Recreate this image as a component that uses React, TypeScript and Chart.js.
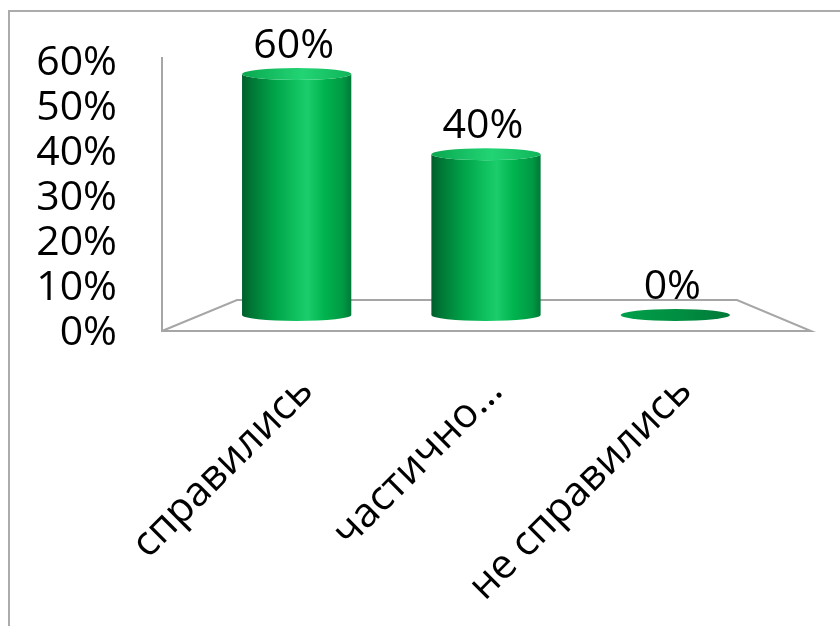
import React, { useEffect, useRef } from "react";
import { Chart, registerables } from "chart.js";

Chart.register(...registerables);

const categories = ["справились", "частично…", "не справились"];
const values = [60, 40, 0];
const dataLabels = ["60%", "40%", "0%"];
const yTickLabels = ["0%", "10%", "20%", "30%", "40%", "50%", "60%"];

const FONT = "'Open Sans', 'Noto Sans', sans-serif";
const FONT_SIZE = 41;

const cylinderPlugin = {
  id: "cylinder3d",
  beforeDatasetsDraw(chart: any) {
    const { ctx, chartArea } = chart;
    const { left, right, top, bottom } = chartArea;
    const zero = chart.scales.yBar.getPixelForValue(0);
    const backY = zero - 15;
    const frontY = bottom - 2;
    const wallX = left - 40;
    ctx.save();
    ctx.strokeStyle = "#a6a6a6";
    ctx.lineWidth = 2;
    ctx.beginPath();
    ctx.moveTo(wallX, top - 6);
    ctx.lineTo(wallX, frontY);
    ctx.lineTo(right + 41, frontY);
    ctx.lineTo(right - 33, backY);
    ctx.lineTo(left + 35, backY);
    ctx.lineTo(wallX, frontY);
    ctx.stroke();
    ctx.restore();
  },
  afterDatasetsDraw(chart: any) {
    const ctx = chart.ctx;
    const meta = chart.getDatasetMeta(0);
    meta.data.forEach((el: any, i: number) => {
      const { x, y, base, width } = el.getProps(["x", "y", "base", "width"], true);
      const rx = width / 2;
      const ry = width * 0.055;
      const l = x - rx;
      const r = x + rx;
      ctx.save();
      if (Math.abs(base - y) < 1) {
        const g0 = ctx.createLinearGradient(l, 0, r, 0);
        g0.addColorStop(0, "#00a04a");
        g0.addColorStop(0.5, "#008f42");
        g0.addColorStop(1, "#007a38");
        ctx.fillStyle = g0;
        ctx.beginPath();
        ctx.ellipse(x, base, rx, ry, 0, 0, Math.PI * 2);
        ctx.fill();
      } else {
        const g = ctx.createLinearGradient(l, 0, r, 0);
        g.addColorStop(0, "#005e2b");
        g.addColorStop(0.08, "#007535");
        g.addColorStop(0.3, "#00a449");
        g.addColorStop(0.5, "#10c260");
        g.addColorStop(0.6, "#1ccd6b");
        g.addColorStop(0.75, "#00b44f");
        g.addColorStop(0.92, "#009a44");
        g.addColorStop(1, "#007a37");
        ctx.fillStyle = g;
        ctx.beginPath();
        ctx.moveTo(l, y);
        ctx.lineTo(l, base);
        ctx.ellipse(x, base, rx, ry, 0, Math.PI, 0, true);
        ctx.lineTo(r, y);
        ctx.ellipse(x, y, rx, ry, 0, 0, Math.PI, false);
        ctx.closePath();
        ctx.fill();
        const g2 = ctx.createLinearGradient(l, 0, r, 0);
        g2.addColorStop(0, "#0aa850");
        g2.addColorStop(0.55, "#22d474");
        g2.addColorStop(1, "#10b55a");
        ctx.fillStyle = g2;
        ctx.beginPath();
        ctx.ellipse(x, y, rx, ry, 0, 0, Math.PI * 2);
        ctx.fill();
      }
      ctx.fillStyle = "#000";
      ctx.font = `${FONT_SIZE}px ${FONT}`;
      ctx.textAlign = "center";
      ctx.textBaseline = "alphabetic";
      ctx.fillText(dataLabels[i], x - 3, y - ry - 10);
      ctx.restore();
    });
  },
};

export default function App() {
  const ref = useRef<HTMLCanvasElement | null>(null);
  useEffect(() => {
    if (!ref.current) return;
    const chart = new Chart(ref.current, {
      type: "bar",
      data: {
        labels: categories,
        datasets: [
          {
            data: values,
            backgroundColor: "rgba(0,0,0,0)",
            borderWidth: 0,
            xAxisID: "x",
            yAxisID: "yBar",
            barPercentage: 0.577,
            categoryPercentage: 1,
          },
        ],
      },
      options: {
        responsive: false,
        animation: false,
        layout: { padding: { top: 63, left: 0, right: 70, bottom: 0 } },
        plugins: { legend: { display: false }, tooltip: { enabled: false } },
        scales: {
          x: {
            type: "category",
            offset: true,
            grid: { display: false, drawTicks: false },
            border: { display: false },
            ticks: {
              autoSkip: false,
              minRotation: 45,
              maxRotation: 45,
              padding: 34,
              labelOffset: 10,
              color: "#000",
              font: { family: FONT, size: FONT_SIZE },
            },
            afterFit: (s: any) => {
              s.height = 293;
              s.paddingLeft = 0;
              s.paddingRight = 0;
            },
          },
          y: {
            type: "linear",
            position: "left",
            min: 0,
            max: 60,
            grid: { display: false, drawTicks: false },
            border: { display: false },
            ticks: {
              stepSize: 10,
              autoSkip: false,
              padding: 85,
              color: "#000",
              font: { family: FONT, size: FONT_SIZE, lineHeight: 1 },
              callback: (_v: any, i: number) => yTickLabels[i],
            },
            afterFit: (s: any) => {
              s.width = 202;
              s.paddingTop = 0;
              s.paddingBottom = 0;
            },
          },
          yBar: {
            type: "linear",
            display: false,
            min: -4.48,
            max: 62.73,
          },
        },
      },
      plugins: [cylinderPlugin],
    } as any);
    return () => chart.destroy();
  }, []);
  return (
    <div style={{ position: "fixed", left: 0, top: 0, width: 840, height: 626, overflow: "hidden", background: "#fff" }}>
      <div
        style={{
          position: "absolute",
          left: 8,
          top: 10,
          width: 900,
          height: 700,
          border: "2px solid #ababab",
          boxSizing: "border-box",
        }}
      />
      <canvas ref={ref} width={840} height={626} style={{ position: "absolute", left: 0, top: 0, display: "block" }} />
    </div>
  );
}
